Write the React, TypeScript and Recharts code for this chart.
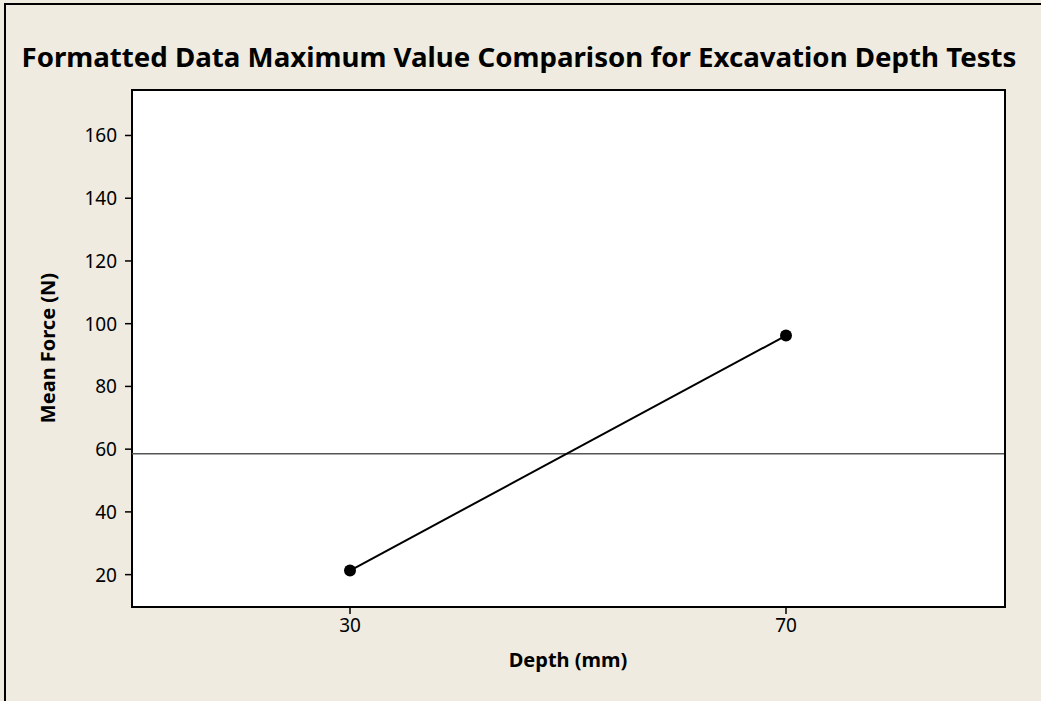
import { LineChart, Line, XAxis, YAxis, ReferenceLine, Label } from "recharts";

// depth levels (mm) and the mean of the maximum force at each level (N)
const depths = [30, 70];
const meanForce = [21.3, 96.2];
const grandMean = 58.5;

const xTicks = [30, 70];
const yTicks = [20, 40, 60, 80, 100, 120, 140, 160];

const data = depths.map((d, i) => ({ depth: d, force: meanForce[i] }));

const BG = "#efebe1";
const FONT = "'Noto Sans', sans-serif";

const AxisTick = (props: any) => {
	const { x, y, payload, textAnchor, verticalAnchor } = props;
	const dy = verticalAnchor === "start" ? 14 : 7;
	return (
		<text x={x} y={y} dy={dy} textAnchor={textAnchor} fontFamily={FONT} fontSize={19} fill="#000">
			{payload.value}
		</text>
	);
};

const labelFont = { fontFamily: FONT, fontSize: 20, fontWeight: 700, fill: "#000" };

export const App = () => {
	return (
		<div style={{ position: "absolute", left: 0, top: 0, width: 1041, height: 701, background: BG, overflow: "hidden" }}>
			{/* outer frame */}
			<div
				style={{
					position: "absolute",
					left: 4,
					top: 3,
					width: 1100,
					height: 800,
					borderLeft: "2px solid #000",
					borderTop: "2px solid #000",
				}}
			/>
			{/* plot panel */}
			<div
				style={{
					position: "absolute",
					left: 131,
					top: 89,
					width: 871,
					height: 515,
					background: "#fff",
					border: "2px solid #000",
				}}
			/>
			<svg style={{ position: "absolute", left: 0, top: 0 }} width={1041} height={110}>
				<text
					x={519}
					y={67}
					textAnchor="middle"
					textLength={995}
					lengthAdjust="spacingAndGlyphs"
					style={{ fontFamily: FONT, fontSize: 27, fontWeight: 700 }}
				>
					Formatted Data Maximum Value Comparison for Excavation Depth Tests
				</text>
			</svg>
			<div style={{ position: "absolute", left: 0, top: 0 }}>
				<LineChart
					width={1041}
					height={701}
					data={data}
					margin={{ top: 90, right: 37, bottom: 25, left: 32 }}
				>
					<XAxis
						dataKey="depth"
						type="number"
						domain={[10, 90]}
						ticks={xTicks}
						height={70}
						tickSize={8}
						tickMargin={4}
						axisLine={false}
						tickLine={{ stroke: "#000", strokeWidth: 1.5 }}
						tick={<AxisTick />}
					>
						<Label value="Depth (mm)" position="insideBottom" offset={9} style={labelFont} />
					</XAxis>
					<YAxis
						type="number"
						domain={[10, 174.5]}
						ticks={yTicks}
						width={100}
						tickSize={7}
						tickMargin={8}
						axisLine={false}
						tickLine={{ stroke: "#000", strokeWidth: 1.5 }}
						tick={<AxisTick />}
					>
						<Label
							value="Mean Force (N)"
							angle={-90}
							position="insideLeft"
							offset={16}
							style={{ ...labelFont, textAnchor: "middle" }}
						/>
					</YAxis>
					<ReferenceLine y={grandMean} stroke="#555" strokeWidth={1.5} />
					<Line
						dataKey="force"
						stroke="#000"
						strokeWidth={2}
						dot={{ r: 6, fill: "#000", stroke: "#000", strokeWidth: 0 }}
						isAnimationActive={false}
					/>
				</LineChart>
			</div>
		</div>
	);
};

export default App;
